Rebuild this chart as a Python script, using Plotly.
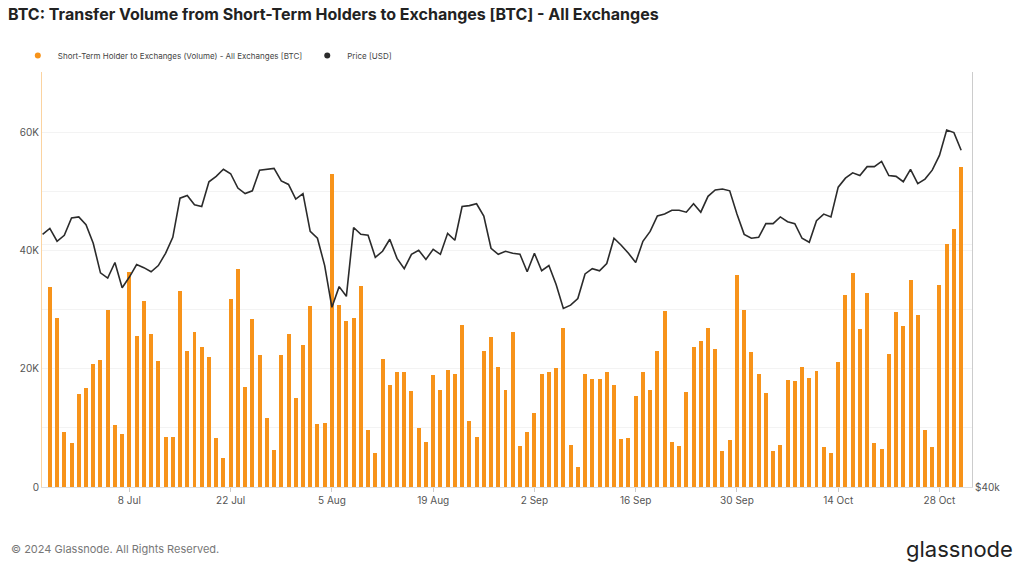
import pandas as pd
import plotly.graph_objects as go

# daily values, 27 Jun - 31 Oct 2024 (volume in thousand BTC)
bar_start = "2024-06-27"
volume_k = [
    33.9, 28.6, 9.4, 7.5, 15.8, 16.7, 20.9, 21.5, 29.9, 10.5, 8.9, 36.4, 25.5, 31.5,
    26.0, 21.4, 8.4, 8.5, 33.2, 23.0, 26.2, 23.7, 22.1, 8.3, 4.9, 31.9, 36.9, 16.9,
    28.5, 22.3, 11.7, 6.2, 22.3, 26.0, 15.0, 24.1, 30.7, 10.6, 10.9, 53.0, 30.9, 28.1,
    28.6, 34.0, 9.6, 5.8, 21.6, 17.2, 19.4, 19.5, 16.2, 10.0, 7.7, 18.9, 16.5, 19.9,
    19.1, 27.5, 11.2, 8.4, 23.1, 25.4, 20.3, 16.4, 26.3, 6.9, 9.3, 12.6, 19.2, 19.4,
    20.1, 26.9, 7.2, 3.4, 19.2, 18.3, 18.3, 19.4, 17.2, 8.2, 8.3, 15.5, 19.5, 16.4,
    23.0, 29.8, 7.6, 6.9, 16.1, 23.7, 24.7, 26.9, 23.4, 6.1, 8.0, 35.9, 29.9, 22.8,
    19.2, 16.0, 6.1, 7.1, 18.2, 17.9, 20.3, 18.5, 19.7, 6.8, 5.8, 21.1, 32.6, 36.3,
    26.7, 32.9, 7.5, 6.5, 22.6, 29.7, 27.3, 35.1, 29.2, 9.6, 6.8, 34.2, 41.2, 43.7,
    54.2,
]

# daily BTC price in thousand USD, 26 Jun - 31 Oct 2024
price_start = "2024-06-26"
price_k = [
    61.0, 61.6, 60.3, 60.9, 62.7, 62.8, 62.0, 60.1, 57.2, 56.7, 58.2, 55.8, 56.8, 58.0,
    57.7, 57.3, 57.9, 59.1, 60.7, 64.8, 65.1, 64.1, 63.9, 66.6, 67.2, 68.0, 67.5, 65.9,
    65.3, 65.6, 67.9, 68.0, 68.1, 66.7, 66.3, 64.7, 65.3, 61.3, 60.6, 57.9, 54.0, 55.9,
    55.0, 61.7, 61.0, 60.9, 58.7, 59.3, 60.5, 58.6, 57.6, 59.0, 59.4, 58.5, 59.5, 59.0,
    61.1, 60.4, 63.9, 64.0, 64.2, 62.9, 59.6, 59.0, 59.3, 59.1, 59.0, 57.3, 59.1, 57.4,
    57.9, 56.1, 53.9, 54.2, 54.8, 57.1, 57.6, 57.4, 58.1, 60.6, 59.9, 59.1, 58.2, 60.3,
    61.3, 62.9, 63.1, 63.5, 63.5, 63.3, 64.2, 63.3, 65.0, 65.7, 65.8, 65.6, 63.1, 61.0,
    60.6, 60.7, 62.1, 62.1, 62.8, 62.3, 62.1, 60.6, 60.2, 62.4, 63.1, 62.8, 66.0, 67.0,
    67.6, 67.3, 68.3, 68.3, 68.9, 67.3, 67.2, 66.6, 68.0, 66.4, 66.9, 67.9, 69.6, 72.6,
    72.3, 70.2,
]

x_tick_dates = ["2024-07-08", "2024-07-22", "2024-08-05", "2024-08-19", "2024-09-02",
                "2024-09-16", "2024-09-30", "2024-10-14", "2024-10-28"]
x_tick_labels = ["8 Jul", "22 Jul", "5 Aug", "19 Aug", "2 Sep", "16 Sep", "30 Sep", "14 Oct", "28 Oct"]
y_tick_vals = [0, 10000, 20000, 30000, 40000, 50000, 60000]
y_tick_labels = ["0", "", "20K", "", "40K", "", "60K"]

bar_dates = pd.date_range(bar_start, periods=len(volume_k), freq="D")
price_dates = pd.date_range(price_start, periods=len(price_k), freq="D")

ORANGE = "#f7931a"
DARK = "#2b2b2b"
FONT = "Inter, Roboto, sans-serif"
VOL_NAME = "Short-Term Holder to Exchanges (Volume) - All Exchanges [BTC]"
PRICE_NAME = "Price [USD]"

fig = go.Figure()
fig.add_trace(go.Bar(
    x=bar_dates, y=[v * 1000 for v in volume_k], name=VOL_NAME, showlegend=False,
    marker=dict(color=ORANGE, line=dict(width=0)),
    width=0.55 * 86400000,
))
fig.add_trace(go.Scatter(
    x=price_dates, y=[p * 1000 for p in price_k], yaxis="y2", showlegend=False,
    mode="lines", name=PRICE_NAME,
    line=dict(color=DARK, width=1.6),
))
# legend entries with round markers
for name, color in [(VOL_NAME, ORANGE), (PRICE_NAME, DARK)]:
    fig.add_trace(go.Scatter(x=[None], y=[None], mode="markers", name=name,
                             marker=dict(color=color, size=6, symbol="circle")))

# the page body adds an 8px offset, so the figure is sized to fit inside the window
fig.update_layout(
    width=1008, height=555,
    margin=dict(l=34, r=44, t=64, b=76, autoexpand=False),
    paper_bgcolor="white", plot_bgcolor="white",
    font=dict(family=FONT, size=10, color="#555"),
    title=dict(text="<b>BTC: Transfer Volume from Short-Term Holders to Exchanges [BTC] - All Exchanges</b>",
               x=0.0, xref="container", xanchor="left", y=0.988, yanchor="middle",
               font=dict(size=16, color="#222", family=FONT)),
    legend=dict(orientation="h", x=-0.026, y=1.005, xanchor="left", yanchor="bottom",
                font=dict(size=8, color="#444"), itemwidth=30, tracegroupgap=0),
    showlegend=True,
    bargap=0,
    xaxis=dict(
        range=["2024-06-25 22:00", "2024-11-01 12:00"],
        tickvals=x_tick_dates, ticktext=x_tick_labels,
        showgrid=False, showline=True, linecolor="#ddd",
        ticks="outside", ticklen=4, tickcolor="#ccc",
        tickfont=dict(size=10, color="#555"),
    ),
    yaxis=dict(
        range=[0, 70300], tickvals=y_tick_vals, ticktext=y_tick_labels,
        showgrid=True, gridcolor="#f3f3f3", zeroline=False,
        showline=True, linecolor="#fbd3a0",
        tickfont=dict(size=10, color="#555"),
    ),
    yaxis2=dict(
        type="log", range=[4.60206, 4.90309], overlaying="y", side="right",
        tickvals=[40000, 60000], ticktext=["$40k", ""],
        showgrid=True, gridcolor="#f3f3f3",
        showline=True, linecolor="#ccc",
        tickfont=dict(size=10, color="#555"),
    ),
)

fig.add_annotation(text="© 2024 Glassnode. All Rights Reserved.", xref="paper", yref="paper",
                   x=-0.036, y=-0.149, xanchor="left", yanchor="middle", showarrow=False,
                   font=dict(size=11, color="#777"))
fig.add_annotation(text="glassnode", xref="paper", yref="paper",
                   x=1.046, y=-0.149, xanchor="right", yanchor="middle", showarrow=False,
                   font=dict(size=22, color="#222", family=FONT))

fig.write_html("out.html")
